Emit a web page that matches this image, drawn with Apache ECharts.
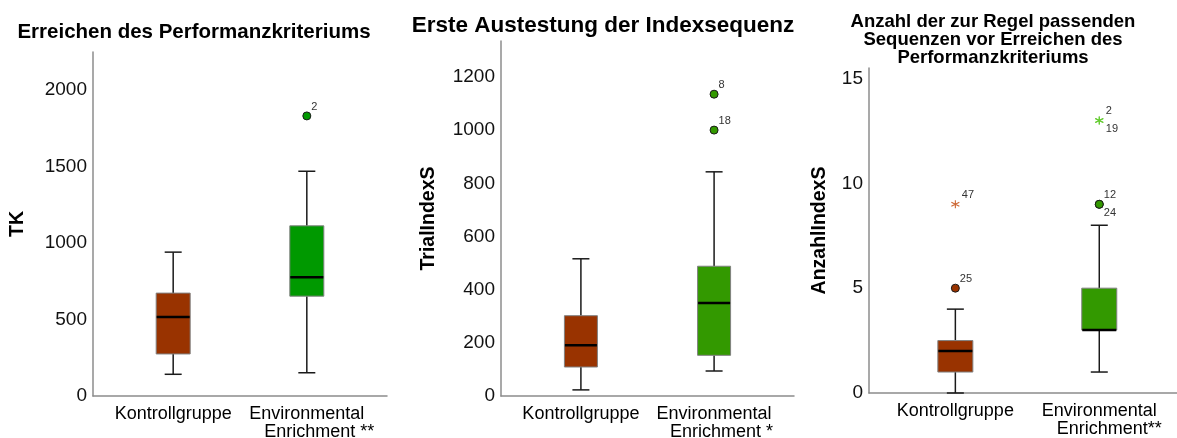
<!DOCTYPE html>
<html>
<head>
<meta charset="utf-8">
<script src="https://cdn.jsdelivr.net/npm/echarts@6/dist/echarts.min.js"></script>
<style>
html,body{margin:0;padding:0;background:#fff;}
#chart{width:1177px;height:438px;}
</style>
</head>
<body>
<div id="chart"></div>
<script>
// ---------------- data ----------------
const categories = ['Kontrollgruppe', 'Environmental Enrichment'];
const panelTitles = [
  'Erreichen des Performanzkriteriums',
  'Erste Austestung der Indexsequenz',
  'Anzahl der zur Regel passenden\nSequenzen vor Erreichen des\nPerformanzkriteriums'
];
const yNames = ['TK', 'TrialIndexS', 'AnzahlIndexS'];
const significance = [' **', ' *', '**'];
const yTickInterval = [500, 200, 5];
const yAxisMax = [2250, 1335, 15.5];

// box statistics: [lower whisker, Q1, median, Q3, upper whisker]
const tkKontroll = [142, 275, 516, 673, 941];
const tkEnrichment = [152, 653, 777, 1113, 1470];
const trialKontroll = [23, 109, 191, 302, 516];
const trialEnrichment = [94, 153, 350, 488, 843];
const anzahlKontroll = [0, 1, 2, 2.5, 4];
const anzahlEnrichment = [1, 3, 3, 5, 8];

// outliers: [group index, value, case id, marker ('o' = circle, '*' = extreme)]
const tkOutliers = [[1, 1832, '2', 'o']];
const trialOutliers = [[1, 1135, '8', 'o'], [1, 1000, '18', 'o']];
const anzahlOutliers = [
  [0, 5, '25', 'o'], [0, 9, '47', '*'],
  [1, 9, '12', 'o'], [1, 9, '24', 'o'],
  [1, 13, '2', '*'], [1, 13, '19', '*']
];

// ---------------- layout / style ----------------
const grids = [
  {left: 93, top: 52, width: 294, height: 344},
  {left: 501, top: 41, width: 293, height: 355},
  {left: 869, top: 68, width: 308, height: 325}
];
const xMax = [22, 22, 21.4];
const groupX = [6, 16];
const boxWidth = [34, 33, 35];
const capWidth = 17;
const nameGaps = [65, 62, 39];
const catPadSpaces = ['     ', '   ', '    '];
const titlePos = [{x: 194, y: 23, size: 20.5}, {x: 603, y: 17, size: 22.5}, {x: 993, y: 13, size: 18.5}];
const kontrollColor = '#993300';
const enrichColors = ['#009900', '#339900', '#339900'];
const starColors = ['#cc6633', '#66cc33'];
const FONT = 'Liberation Sans, Arial, sans-serif';

const boxStats = [[tkKontroll, tkEnrichment], [trialKontroll, trialEnrichment], [anzahlKontroll, anzahlEnrichment]];
const outliers = [tkOutliers, trialOutliers, anzahlOutliers];

const starPath = 'path://M5,0L5,10M0.67,2.5L9.33,7.5M0.67,7.5L9.33,2.5';

function renderBox(panel) {
  return function (params, api) {
    const x = api.value(0);
    const lo = api.coord([x, api.value(1)]);
    const q1 = api.coord([x, api.value(2)]);
    const md = api.coord([x, api.value(3)]);
    const q3 = api.coord([x, api.value(4)]);
    const hi = api.coord([x, api.value(5)]);
    const cx = lo[0];
    const bw = boxWidth[panel];
    const wStyle = {stroke: '#1a1a1a', lineWidth: 1.5};
    return {
      type: 'group',
      children: [
        {type: 'line', shape: {x1: cx, y1: hi[1], x2: cx, y2: q3[1]}, style: wStyle},
        {type: 'line', shape: {x1: cx, y1: q1[1], x2: cx, y2: lo[1]}, style: wStyle},
        {type: 'line', shape: {x1: cx - capWidth / 2, y1: hi[1], x2: cx + capWidth / 2, y2: hi[1]}, style: wStyle},
        {type: 'line', shape: {x1: cx - capWidth / 2, y1: lo[1], x2: cx + capWidth / 2, y2: lo[1]}, style: wStyle},
        {type: 'rect', shape: {x: cx - bw / 2, y: q3[1], width: bw, height: q1[1] - q3[1]},
          style: {fill: api.visual('color'), stroke: '#808080', lineWidth: 1}},
        {type: 'line', shape: {x1: cx - bw / 2 + 0.5, y1: md[1], x2: cx + bw / 2 - 0.5, y2: md[1]},
          style: {stroke: '#000', lineWidth: 2.5}}
      ]
    };
  };
}

const option = {
  animation: false,
  backgroundColor: '#fff',
  textStyle: {fontFamily: FONT},
  title: panelTitles.map((t, i) => ({
    text: t,
    left: titlePos[i].x,
    top: titlePos[i].y,
    textAlign: 'center',
    padding: 0,
    textStyle: {fontFamily: FONT, fontSize: titlePos[i].size, fontWeight: 'bold', color: '#000', lineHeight: 18}
  })),
  grid: grids.map(g => Object.assign({containLabel: false, outerBoundsMode: 'none'}, g)),
  xAxis: grids.map((g, i) => ({
    type: 'value',
    gridIndex: i,
    min: 0,
    max: xMax[i],
    interval: 1,
    splitLine: {show: false},
    axisTick: {show: false},
    axisLine: {show: true, onZero: false, lineStyle: {color: '#8c8c8c', width: 1.5}},
    axisLabel: {
      margin: 9,
      fontSize: 18,
      lineHeight: 18,
      color: '#000',
      fontFamily: FONT,
      formatter: function (v) {
        const idx = groupX.indexOf(v);
        if (idx === 0) return categories[0];
        if (idx === 1) return 'Environmental\n' + catPadSpaces[i] + 'Enrichment' + significance[i];
        return '';
      }
    }
  })),
  yAxis: grids.map((g, i) => ({
    type: 'value',
    gridIndex: i,
    min: 0,
    max: yAxisMax[i],
    interval: yTickInterval[i],
    name: yNames[i],
    nameLocation: 'middle',
    nameGap: nameGaps[i],
    nameTextStyle: {fontFamily: FONT, fontSize: 19.5, fontWeight: 'bold', color: '#000'},
    splitLine: {show: false},
    axisTick: {show: false},
    axisLine: {show: true, lineStyle: {color: '#8c8c8c', width: 1.5}},
    axisLabel: {margin: 6, fontSize: 19, color: '#111', fontFamily: FONT, showMaxLabel: false,
      formatter: v => String(v)}
  })),
  series: []
};

for (let p = 0; p < 3; p++) {
  for (let g = 0; g < 2; g++) {
    option.series.push({
      type: 'custom',
      xAxisIndex: p,
      yAxisIndex: p,
      renderItem: renderBox(p),
      itemStyle: {color: g === 0 ? kontrollColor : enrichColors[p]},
      encode: {x: 0, y: [1, 2, 3, 4, 5]},
      data: [[groupX[g]].concat(boxStats[p][g])],
      z: 2
    });
  }
  const pts = outliers[p].map((o, k) => {
    const dup = outliers[p].slice(0, k).some(q => q[0] === o[0] && q[1] === o[1]);
    const isStar = o[3] === '*';
    return {
      value: [groupX[o[0]], o[1]],
      symbol: isStar ? starPath : 'circle',
      symbolSize: 8,
      itemStyle: isStar
        ? {color: 'none', borderColor: starColors[o[0]], borderWidth: 1.1, opacity: 1}
        : {color: o[0] === 0 ? kontrollColor : enrichColors[p], borderColor: '#1a1a1a', borderWidth: 1, opacity: 1},
      label: {
        show: true,
        formatter: o[2],
        position: 'right',
        distance: 0,
        offset: [0, dup ? 9 : -9],
        fontSize: 11,
        color: '#333',
        fontFamily: FONT
      }
    };
  });
  option.series.push({
    type: 'scatter',
    xAxisIndex: p,
    yAxisIndex: p,
    data: pts,
    itemStyle: {opacity: 1},
    z: 3
  });
}

const chart = echarts.init(document.getElementById('chart'), null, {renderer: 'canvas'});
chart.setOption(option);
</script>
</body>
</html>
